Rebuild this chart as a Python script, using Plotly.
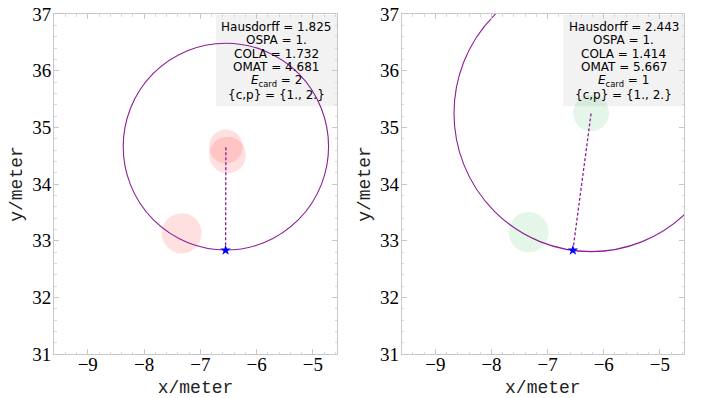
import plotly.graph_objects as go

# ---- data ----
truth_x = [-6.55]
truth_y = [32.83]

left_est_x = [-6.545, -6.515, -7.33]
left_est_y = [34.66, 34.51, 33.13]
left_est_r = [0.30, 0.325, 0.355]

right_est_x = [-6.225, -7.34]
right_est_y = [35.25, 33.15]
right_est_r = [0.32, 0.355]

hausdorff = [1.825, 2.443]
ospa = ["1.", "1."]
cola = [1.732, 1.414]
omat = [4.681, 5.667]
ecard = [2, 1]
cp = ["{1., 2.}", "{1., 2.}"]

x_range = [-9.6, -4.57]
y_range = [31, 37]
x_ticks = [-9, -8, -7, -6, -5]
y_ticks = [31, 32, 33, 34, 35, 36, 37]

W, H = 702, 398
fig = go.Figure()

panels = [
    dict(xa="x", ya="y", dom=[54 / W, 337 / W], ex=left_est_x, ey=left_est_y, er=left_est_r,
         fill="rgba(255,0,0,0.12)"),
    dict(xa="x2", ya="y2", dom=[401.7 / W, 684 / W], ex=right_est_x, ey=right_est_y, er=right_est_r,
         fill="rgba(0,170,40,0.11)"),
]
ydom = [1 - 354 / H, 1 - 14 / H]
purple = "rgb(140,30,150)"
serif = "Liberation Serif, Times New Roman, serif"

shapes = []
annotations = []
for i, p in enumerate(panels):
    xa, ya = p["xa"], p["ya"]
    # info box
    shapes.append(dict(type="rect", xref=f"{xa} domain", yref=f"{ya} domain",
                       x0=0.572, x1=1.0, y0=0.729, y1=0.997,
                       fillcolor="#f2f2f2", line=dict(width=0), layer="below"))
    for cx, cy, r in zip(p["ex"], p["ey"], p["er"]):
        shapes.append(dict(type="circle", xref=xa, yref=ya,
                           x0=cx - r, x1=cx + r, y0=cy - r, y1=cy + r,
                           fillcolor=p["fill"], line=dict(width=0), layer="below"))
    # farthest estimate -> Hausdorff circle
    cx, cy = p["ex"][0], p["ey"][0]
    R = hausdorff[i]
    shapes.append(dict(type="circle", xref=xa, yref=ya,
                       x0=cx - R, x1=cx + R, y0=cy - R, y1=cy + R,
                       line=dict(color=purple, width=1.1), layer="below"))
    fig.add_trace(go.Scatter(x=[truth_x[0], cx], y=[truth_y[0], cy], xaxis=xa, yaxis=ya,
                             mode="lines", line=dict(color=purple, width=1.3, dash="3px,2px"),
                             showlegend=False, hoverinfo="skip"))
    fig.add_trace(go.Scatter(x=truth_x, y=truth_y, xaxis=xa, yaxis=ya, mode="markers",
                             marker=dict(symbol="star", size=8, color="blue"),
                             showlegend=False, hoverinfo="skip"))
    lines = [f"Hausdorff = {hausdorff[i]:.3f}", f"OSPA = {ospa[i]}",
             f"COLA = {cola[i]:.3f}", f"OMAT = {omat[i]:.3f}",
             f"<i>E</i><sub>card</sub> = {ecard[i]}", f"{{c,p}} = {cp[i]}"]
    for k, t in enumerate(lines):
        ypx = 26.5 + 13.65 * k
        annotations.append(dict(text=t, xref=f"{xa} domain", yref=f"{ya} domain",
                                x=0.786, y=(354 - ypx) / 340, showarrow=False,
                                xanchor="center", yanchor="middle",
                                font=dict(family="DejaVu Sans", size=12, color="black")))

axis_common = dict(
    showgrid=False, zeroline=False, showline=True, linecolor="#c8c8c8", linewidth=1,
    mirror="allticks", ticks="inside", ticklen=5, tickcolor="#c8c8c8",
    minor=dict(ticks="inside", ticklen=2.5, dtick=0.2, tickcolor="#d8d8d8"),
    tickfont=dict(family=serif, size=19, color="black"),
    title_font=dict(family="Liberation Mono", size=18, color="#222"),
    automargin=False,
)

layout = dict(
    width=W, height=H, margin=dict(l=0, r=0, t=0, b=0, autoexpand=False),
    paper_bgcolor="white", plot_bgcolor="white",
    shapes=shapes, annotations=annotations, showlegend=False,
)
for i, p in enumerate(panels):
    sx = "" if i == 0 else "2"
    layout[f"xaxis{sx}"] = dict(axis_common, domain=p["dom"], range=x_range, tickvals=x_ticks,
                                title=dict(text="x/meter", standoff=12), anchor=f"y{sx}",
                                ticklabelstandoff=-7)
    layout[f"yaxis{sx}"] = dict(axis_common, domain=ydom, range=y_range, tickvals=y_ticks,
                                title=dict(text="y/meter", standoff=4), anchor=f"x{sx}",
                                ticklabelstandoff=-2)

fig.update_layout(**layout)
fig.write_html("out.html", config={"displayModeBar": False},
               post_script="document.body.style.margin='0';document.body.style.padding='0';")
